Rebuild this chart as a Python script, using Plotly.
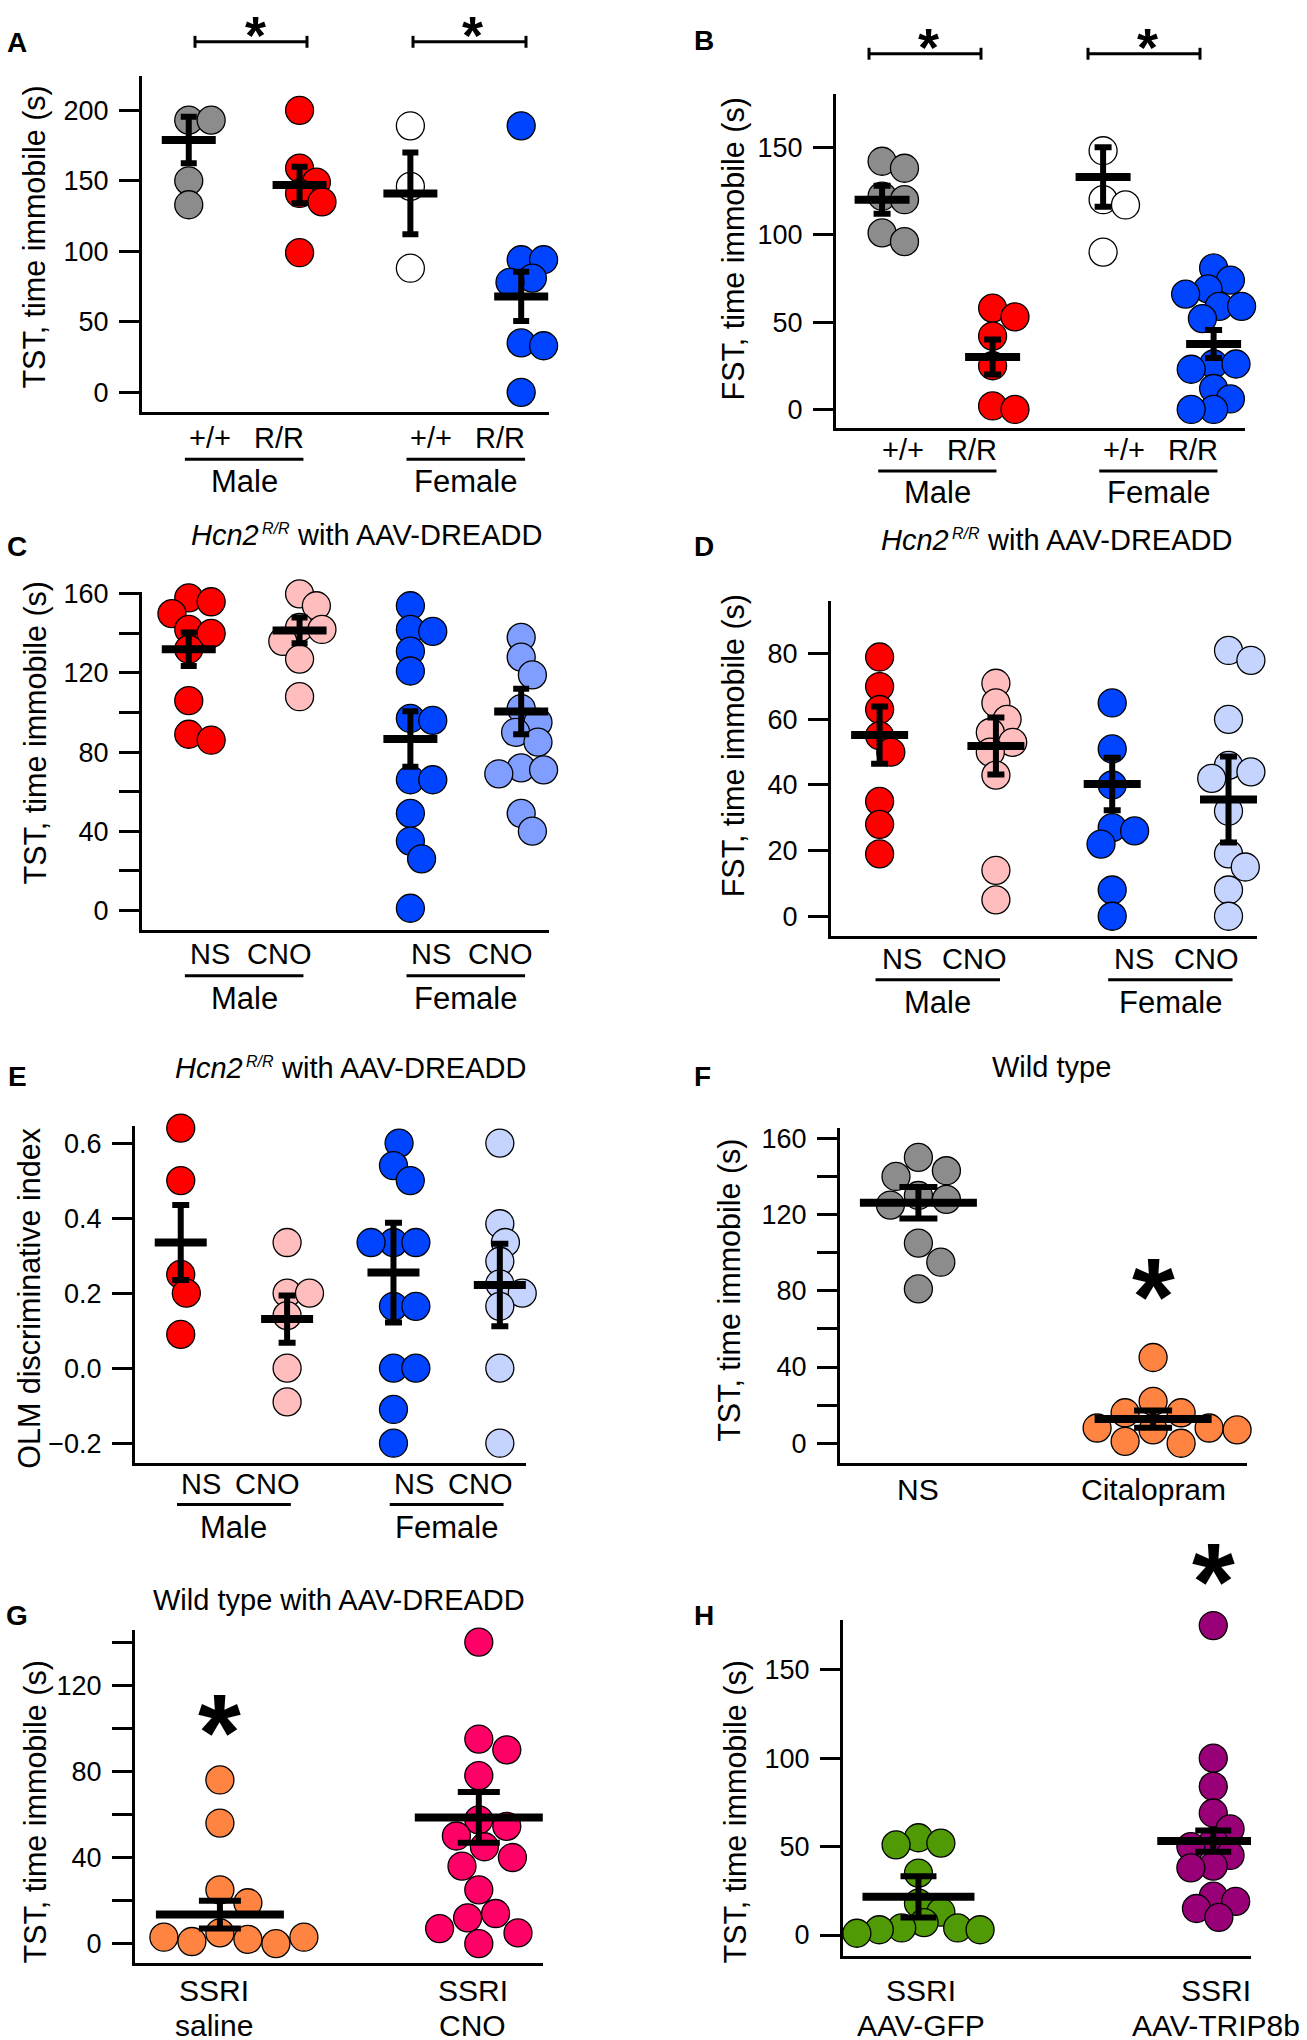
import plotly.graph_objects as go

W, H = 1307, 2040
FONT = "Liberation Sans, Arial, Helvetica, sans-serif"

# ================= data =================
SEX = ["Male", "Female"]

# A: TST, Hcn2 +/+ vs R/R
A_ticks = ["+/+", "R/R", "+/+", "R/R"]
A_wt_male = [225, 193, 193, 150, 133]
A_rr_male = [200, 159, 149, 141, 135, 99]
A_wt_female = [189, 146, 88]
A_rr_female = [189, 94, 94, 81, 78, 35, 33, 0]
A_mean = [179, 147, 141, 68]
A_sem = [16.5, 13, 29, 17.5]

# B: FST, Hcn2 +/+ vs R/R
B_ticks = ["+/+", "R/R", "+/+", "R/R"]
B_wt_male = [142, 138, 122, 120, 101, 96]
B_rr_male = [58, 53, 42, 25, 2, 0]
B_wt_female = [148, 120, 117, 90]
B_rr_female = [81, 74, 69, 66, 59, 59, 52, 26, 26, 23, 12, 6, 0, 0]
B_mean = [120, 30, 133, 37.5]
B_sem = [8, 10, 17, 8]

# C: TST, Hcn2 R/R with AAV-DREADD
C_ticks = ["NS", "CNO", "NS", "CNO"]
C_ns_male = [158, 156, 150, 142, 140, 132, 106, 89, 86]
C_cno_male = [160, 154, 143, 142, 136, 127, 108]
C_ns_female = [154, 142, 141, 131, 121, 97, 96, 66, 66, 49, 35, 26, 1]
C_cno_female = [138, 128, 119, 102, 95, 90, 85, 72, 71, 69, 49, 40]
C_mean = [132, 141.5, 86.6, 100.5]
C_sem = [8.5, 6.5, 14, 11.5]

# D: FST, Hcn2 R/R with AAV-DREADD
D_ticks = ["NS", "CNO", "NS", "CNO"]
D_ns_male = [79, 70, 63, 55, 50, 35, 28, 19]
D_cno_male = [71, 65, 60, 56, 53, 50, 43, 14, 5]
D_ns_female = [65, 51, 40, 27, 26, 22, 8, 0]
D_cno_female = [81, 78, 60, 46, 44, 42, 32, 19, 15, 8, 0]
D_mean = [55.2, 51.9, 40.3, 35.6]
D_sem = [8.7, 8.7, 8, 13.1]

# E: OLM discriminative index
E_ticks = ["NS", "CNO", "NS", "CNO"]
E_ns_male = [0.64, 0.50, 0.25, 0.20, 0.09]
E_cno_male = [0.335, 0.20, 0.20, 0.14, 0.0, -0.09]
E_ns_female = [0.65, 0.60, 0.54, 0.50, 0.335, 0.335, 0.335, 0.165, 0.165, 0.0, 0.0, -0.11, -0.20]
E_cno_female = [0.60, 0.385, 0.335, 0.285, 0.225, 0.20, 0.165, 0.0, -0.20]
E_mean = [0.335, 0.131, 0.255, 0.222]
E_sem = [0.10, 0.063, 0.133, 0.11]

# F: Wild type, TST
F_ticks = ["NS", "Citalopram"]
F_ns = [166, 150, 143, 140, 130, 128, 125, 105, 95, 81]
F_citalopram = [45, 22, 16, 16, 8, 7, 8, 7, 0, 1]
F_mean = [126.2, 12.7]
F_sem = [8.3, 4.5]

# G: Wild type with AAV-DREADD, TST
G_ticks = [["SSRI", "saline"], ["SSRI", "CNO"]]
G_saline = [76, 56, 25, 19, 5, 2, 1, 0, 3, 3]
G_cno = [140, 95, 90, 78, 57.5, 54.5, 50, 45, 40, 36, 25, 14, 12, 7, 5, 0]
G_mean = [13.5, 58.6]
G_sem = [6.4, 11.8]

# H: TST, SSRI with AAV
H_ticks = [["SSRI", "AAV-GFP"], ["SSRI", "AAV-TRIP8b"]]
H_gfp = [55, 52, 51, 35, 18, 13, 7, 4, 4, 3, 3, 1]
H_trip8b = [175, 100, 84, 69, 60, 53, 50, 45, 39, 38, 22, 19, 15, 13, 10]
H_mean = [21.6, 53.1]
H_sem = [11.7, 6]

# ================= styles =================
GRAY = "#8c8c8c"
RED = "#ff0000"
WHITE = "#ffffff"
BLUE = "#0044ff"
PINK = "#ffbdbd"
LBLUE_C = "#7f9eff"
LBLUE = "#c4d4ff"
ORANGE = "#ff8442"
MAGENTA = "#ff0066"
GREEN = "#4f9a05"
PURPLE = "#990077"
MSIZE = 28
TICKF = 27      # tick label font
CATF = 29       # category labels
SEXF = 31       # Male / Female
TITF = 29       # panel titles
YT = 30.5       # y-axis titles
LETF = 28       # panel letters
LABF = 30       # F/G/H category labels

fig = go.Figure()
annotations = []
shapes = []
axes = {}


def px_x(p):
    return p / W


def px_y(p):
    return 1 - p / H


def swarm(vals, ppu_y, thr, d=MSIZE, step=0.2):
    placed, offs = [], []
    cands = [0.0]
    for k in range(1, 80):
        cands += [k * step * d, -k * step * d]
    for v in vals:
        y = v * ppu_y
        for c in cands:
            if all((c - a) ** 2 + (y - b) ** 2 >= (thr * d) ** 2 for a, b in placed):
                break
        placed.append((c, y))
        offs.append(c)
    return offs


def text(px, py, s, size, angle=0, height=None, xanchor="center"):
    a = dict(x=px_x(px), y=px_y(py), xref="paper", yref="paper", text=s,
             showarrow=False, textangle=angle, xanchor=xanchor, yanchor="middle",
             font=dict(size=size, color="black", family=FONT))
    if height:
        a["height"] = height
    annotations.append(a)


def hline(x0, x1, y, w=3):
    shapes.append(dict(type="line", xref="paper", yref="paper", x0=px_x(x0), x1=px_x(x1),
                       y0=px_y(y), y1=px_y(y), line=dict(color="black", width=w)))


def vline(x, y0, y1, w=3):
    shapes.append(dict(type="line", xref="paper", yref="paper", x0=px_x(x), x1=px_x(x),
                       y0=px_y(y0), y1=px_y(y1), line=dict(color="black", width=w)))


def star(px, py, size):
    # py = centre of the asterisk glyph
    text(px, py + 0.12 * size, "<b>*</b>", size, height=int(0.74 * size))


def hcn_title(cx, cy):
    # "Hcn2^(R/R) with AAV-DREADD" built from three plain annotations
    main, sup = TITF, 16
    w1 = 2.334 * main
    w2 = 1.722 * sup
    gap = 3
    sp = 0.278 * main
    w3 = 8.61 * main
    left = cx - (w1 + gap + w2 + sp + w3) / 2
    text(left, cy, "<i>Hcn2</i>", main, xanchor="left")
    text(left + w1 + gap, cy - 6.5, "<i>R/R</i>", sup, xanchor="left")
    text(left + w1 + gap + w2 + sp, cy, "with AAV-DREADD", main, xanchor="left")


def add_panel(k, box, xr, yr, tickvals, groups, means, sems, colors,
              mean_hw_px, cap_px, thr, minor=None, ticktext=None):
    l, r, t, b = box
    xn = "x" if k == 1 else f"x{k}"
    yn = "y" if k == 1 else f"y{k}"
    ppu_x = (r - l) / (xr[1] - xr[0])
    ppu_y = (b - t) / (yr[1] - yr[0])
    axes["xaxis" if k == 1 else f"xaxis{k}"] = dict(
        domain=[px_x(l), px_x(r)], anchor=yn, range=list(xr), showline=True, linewidth=3,
        linecolor="black", showticklabels=False, ticks="", showgrid=False, zeroline=False,
        fixedrange=True)
    ya = dict(
        domain=[px_y(b), px_y(t)], anchor=xn, range=list(yr), showline=True, linewidth=3,
        linecolor="black", ticks="outside", ticklen=20, tickwidth=3, tickcolor="black",
        tickmode="array", tickvals=tickvals,
        ticktext=ticktext if ticktext else [str(v) for v in tickvals],
        ticklabelstandoff=5,
        tickfont=dict(size=TICKF, color="black", family=FONT), showgrid=False, zeroline=False,
        fixedrange=True)
    if minor:
        ya["minor"] = dict(ticks="outside", ticklen=20, tickwidth=3, tickcolor="black",
                           tick0=0, dtick=minor, showgrid=False)
    axes["yaxis" if k == 1 else f"yaxis{k}"] = ya
    for i, vals in enumerate(groups):
        c = i + 1
        offs = swarm(vals, ppu_y, thr)
        fig.add_trace(go.Scatter(
            x=[c + o / ppu_x for o in offs], y=vals, mode="markers", xaxis=xn, yaxis=yn,
            marker=dict(size=MSIZE, color=colors[i], line=dict(color="black", width=1.3)),
            cliponaxis=False, showlegend=False, hoverinfo="y"))
    for i in range(len(groups)):
        c = i + 1
        hw = mean_hw_px / ppu_x
        fig.add_trace(go.Scatter(
            x=[c - hw, c + hw], y=[means[i], means[i]], mode="lines", xaxis=xn, yaxis=yn,
            line=dict(color="black", width=8), cliponaxis=False, showlegend=False,
            hoverinfo="skip"))
        fig.add_trace(go.Scatter(
            x=[c], y=[means[i]], mode="markers", xaxis=xn, yaxis=yn,
            marker=dict(size=2, color="rgba(0,0,0,0)"),
            error_y=dict(type="data", array=[sems[i]], thickness=6, width=cap_px, color="black"),
            cliponaxis=False, showlegend=False, hoverinfo="skip"))
    return lambda xd: l + (xd - xr[0]) * ppu_x


def pair_labels(tox, ticks, y_tick, y_line, y_sex):
    for j, center in enumerate([1.5, 3.5]):
        text(tox(center - 0.31), y_tick, ticks[2 * j], CATF)
        text(tox(center + 0.31), y_tick, ticks[2 * j + 1], CATF)
        hline(tox(center - 0.535), tox(center + 0.535), y_line)
        text(tox(center), y_sex, SEX[j], SEXF)


def two_line(px, lines, y1, y2):
    text(px, y1, lines[0], LABF)
    text(px, y2, lines[1], LABF, height=30)


def bracket(x0, x1, y):
    hline(x0, x1, y)
    vline(x0, y - 6, y + 6)
    vline(x1, y - 6, y + 6)


# ---------- A ----------
tox = add_panel(1, (142, 549, 63, 402), (0.578, 4.251), (-14.3, 224.6),
                [0, 50, 100, 150, 200],
                [A_wt_male, A_rr_male, A_wt_female, A_rr_female], A_mean, A_sem,
                [GRAY, RED, WHITE, BLUE], 27, 8, 0.7)
pair_labels(tox, A_ticks, 428, 449, 472)
bracket(195, 307, 29)
bracket(413, 526, 29)
star(255, 15, 54)
star(472, 15, 54)
text(35, 226, "TST, time immobile (s)", YT, angle=-90)
text(17, 30, "<b>A</b>", LETF)

# ---------- B ----------
tox = add_panel(2, (836, 1245, 82, 418), (0.583, 4.284), (-10.8, 180.2),
                [0, 50, 100, 150],
                [B_wt_male, B_rr_male, B_wt_female, B_rr_female], B_mean, B_sem,
                [GRAY, RED, WHITE, BLUE], 27.5, 8.5, 0.7)
pair_labels(tox, B_ticks, 440, 461, 483)
bracket(869, 981, 41)
bracket(1088, 1200, 41)
star(928, 27, 54)
star(1147, 27, 54)
text(733, 237, "FST, time immobile (s)", YT, angle=-90)
text(704, 28, "<b>B</b>", LETF)

# ---------- C ----------
tox = add_panel(3, (142, 549, 583, 923), (0.578, 4.251), (-10.05, 160.8),
                [0, 40, 80, 120, 160],
                [C_ns_male, C_cno_male, C_ns_female, C_cno_female], C_mean, C_sem,
                [RED, PINK, BLUE, LBLUE_C], 27, 8, 0.7, minor=20)
pair_labels(tox, C_ticks, 947, 969, 992)
hcn_title(367, 525)
text(35, 725, "TST, time immobile (s)", YT, angle=-90)
text(17, 537, "<b>C</b>", LETF)

# ---------- D ----------
tox = add_panel(4, (831, 1257, 592, 929), (0.582, 4.245), (-6.05, 96.0),
                [0, 20, 40, 60, 80],
                [D_ns_male, D_cno_male, D_ns_female, D_cno_female], D_mean, D_sem,
                [RED, PINK, BLUE, LBLUE], 28.5, 8.5, 0.7)
pair_labels(tox, D_ticks, 952, 973, 996)
hcn_title(1057, 530)
text(733, 737, "FST, time immobile (s)", YT, angle=-90)
text(704, 537, "<b>D</b>", LETF)

# ---------- E ----------
tox = add_panel(5, (135, 526, 1120, 1459), (0.570, 4.246), (-0.252, 0.646),
                [-0.2, 0.0, 0.2, 0.4, 0.6],
                [E_ns_male, E_cno_male, E_ns_female, E_cno_female], E_mean, E_sem,
                [RED, PINK, BLUE, LBLUE], 26, 8.5, 0.7,
                ticktext=["\u22120.2", "0.0", "0.2", "0.4", "0.6"])
pair_labels(tox, E_ticks, 1480, 1501, 1524)
hcn_title(351, 1062)
text(29, 1294, "OLM discriminative index", YT, angle=-90)
text(17, 1070, "<b>E</b>", LETF)

# ---------- F ----------
tox = add_panel(6, (840, 1247, 1122, 1459), (0.666, 2.40), (-10.2, 165.5),
                [0, 40, 80, 120, 160],
                [F_ns, F_citalopram], F_mean, F_sem, [GRAY, ORANGE], 58.5, 19, 0.97,
                minor=20)
for i, lab in enumerate(F_ticks):
    text(tox(i + 1), 1486, lab, LABF)
star(tox(2), 1278, 110)
text(1051, 1061, "Wild type", TITF)
text(730, 1286, "TST, time immobile (s)", YT, angle=-90)
text(702, 1070, "<b>F</b>", LETF)

# ---------- G ----------
tox = add_panel(7, (135, 543, 1627, 1963), (0.672, 2.248), (-9.2, 145.8),
                [0, 40, 80, 120],
                [G_saline, G_cno], G_mean, G_sem, [ORANGE, MAGENTA], 64, 21, 0.97, minor=20)
for i, lab in enumerate(G_ticks):
    two_line(tox(i + 1) - 6, lab, 1990, 2025)
star(tox(1), 1716, 110)
text(339, 1597, "Wild type with AAV-DREADD", TITF)
text(35, 1811, "TST, time immobile (s)", YT, angle=-90)
text(17, 1613, "<b>G</b>", LETF)

# ---------- H ----------
tox = add_panel(8, (843, 1251, 1617, 1955), (0.744, 2.128), (-11.6, 178.3),
                [0, 50, 100, 150],
                [H_gfp, H_trip8b], H_mean, H_sem, [GREEN, PURPLE], 56, 18, 0.7)
for i, lab in enumerate(H_ticks):
    two_line(tox(i + 1) + 3, lab, 1990, 2025)
star(tox(2), 1564, 110)
text(735, 1811, "TST, time immobile (s)", YT, angle=-90)
text(704, 1613, "<b>H</b>", LETF)

fig.update_layout(
    width=W, height=H, margin=dict(l=0, r=0, t=0, b=0, pad=0),
    paper_bgcolor="white", plot_bgcolor="white", showlegend=False,
    font=dict(family=FONT, color="black"),
    annotations=annotations, shapes=shapes, **axes)

fig.write_html("out.html", config={"displayModeBar": False},
               post_script="document.body.style.margin='0';")
